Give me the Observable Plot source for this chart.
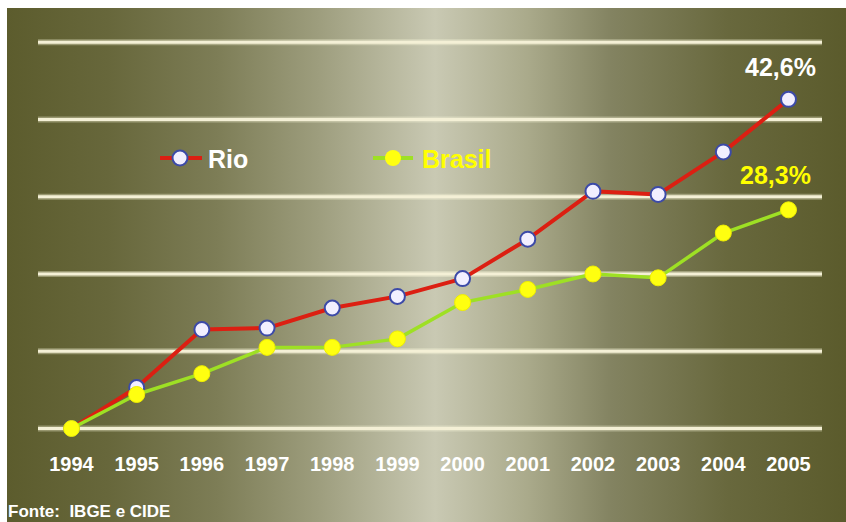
<!DOCTYPE html>
<html>
<head>
<meta charset="utf-8">
<script src="https://cdn.jsdelivr.net/npm/d3@7"></script>
<script src="https://cdn.jsdelivr.net/npm/@observablehq/plot@0.6"></script>
<style>
  html, body { margin: 0; padding: 0; background: #ffffff; }
  #wrap { position: relative; width: 846px; height: 522px; overflow: hidden; background: #ffffff;
          font-family: "Liberation Sans", Arial, sans-serif; }
  #bg { position: absolute; left: 7px; top: 8px; right: 0; bottom: 0;
        background: linear-gradient(to right, #5c5c2d 0%, #67673b 12%, #7d7d56 25%, #9d9d7d 37%, #c9c9b3 51%, #aaaa8b 62%, #838361 72%, #68683d 86%, #5b5b2c 100%); }
  #chart { position: absolute; left: 0; top: 0; }
  .leg { position: absolute; font-size: 25px; font-weight: bold; line-height: 25px; white-space: nowrap; }
  .sw { position: absolute; }
  #src { position: absolute; left: 8px; top: 503px; font-size: 17px; line-height: 17px; font-weight: bold; color: #ffffff; white-space: nowrap; }
</style>
</head>
<body>
<div id="wrap">
  <div id="bg"></div>
  <div id="chart"></div>
  <svg class="sw" style="left:160px;top:148px" width="44" height="20">
    <line x1="0" y1="10" x2="42" y2="10" stroke="#dc1f12" stroke-width="4"></line>
    <circle cx="20" cy="10" r="7.5" fill="#f2efff" stroke="#3c4aa8" stroke-width="2"></circle>
  </svg>
  <div class="leg" style="left:208px;top:147px;color:#ffffff">Rio</div>
  <svg class="sw" style="left:373px;top:148px" width="42" height="20">
    <line x1="0" y1="10" x2="40" y2="10" stroke="#9ee024" stroke-width="4"></line>
    <circle cx="20" cy="10" r="8" fill="#ffff10"></circle>
  </svg>
  <div class="leg" style="left:422px;top:147px;color:#ffff00">Brasil</div>
  <div id="src">Fonte:&nbsp; IBGE e CIDE</div>
</div>
<script>
const years = [1994, 1995, 1996, 1997, 1998, 1999, 2000, 2001, 2002, 2003, 2004, 2005];
const rio = [0, 5.3, 12.8, 13.0, 15.6, 17.1, 19.4, 24.5, 30.7, 30.3, 35.8, 42.6];
const brasil = [0, 4.4, 7.1, 10.5, 10.5, 11.6, 16.3, 18.0, 20.0, 19.5, 25.3, 28.3];
const gridValues = [0, 10, 20, 30, 40, 50];
const endLabels = ["42,6%", "28,3%"];

const rioData = years.map((y, i) => ({year: y, v: rio[i]}));
const brData = years.map((y, i) => ({year: y, v: brasil[i]}));
const last = years.length - 1;

const font = '"Liberation Sans", Arial, sans-serif';

const chart = Plot.plot({
  width: 846,
  height: 495,
  marginLeft: 38,
  marginRight: 24,
  marginTop: 0,
  marginBottom: 55,
  style: {background: "transparent", fontFamily: font, overflow: "visible"},
  x: {type: "linear", domain: [1994, 2005], range: [71, 788], axis: null, label: null},
  y: {domain: [0, 50], range: [428, 41.7], axis: null, label: null},
  marks: [
    Plot.ruleY(gridValues, {stroke: "#fffbe0", strokeOpacity: 0.35, strokeWidth: 6}),
    Plot.ruleY(gridValues, {stroke: "#f4f0d6", strokeWidth: 3}),
    Plot.axisX({ticks: years, tickFormat: d => String(d), tickSize: 0, tickPadding: 16, label: null,
                fontSize: 20, fontWeight: "bold", fill: "#ffffff", anchor: "bottom"}),
    Plot.line(rioData, {x: "year", y: "v", stroke: "#dc1f12", strokeWidth: 4}),
    Plot.dot(rioData, {x: "year", y: "v", r: 7.5, fill: "#f2efff", stroke: "#3c4aa8", strokeWidth: 2}),
    Plot.line(brData, {x: "year", y: "v", stroke: "#9ee024", strokeWidth: 3.5}),
    Plot.dot(brData, {x: "year", y: "v", r: 8, fill: "#ffff10", stroke: "#eeee00", strokeWidth: 1}),
    Plot.text([rioData[last]], {x: "year", y: "v", text: () => endLabels[0], dx: -8, dy: -23,
              lineAnchor: "bottom", fontSize: 25, fontWeight: "bold", fill: "#ffffff"}),
    Plot.text([brData[last]], {x: "year", y: "v", text: () => endLabels[1], dx: -13, dy: -26,
              lineAnchor: "bottom", fontSize: 25, fontWeight: "bold", fill: "#ffff00"})
  ]
});
document.getElementById("chart").appendChild(chart);
</script>
</body>
</html>
